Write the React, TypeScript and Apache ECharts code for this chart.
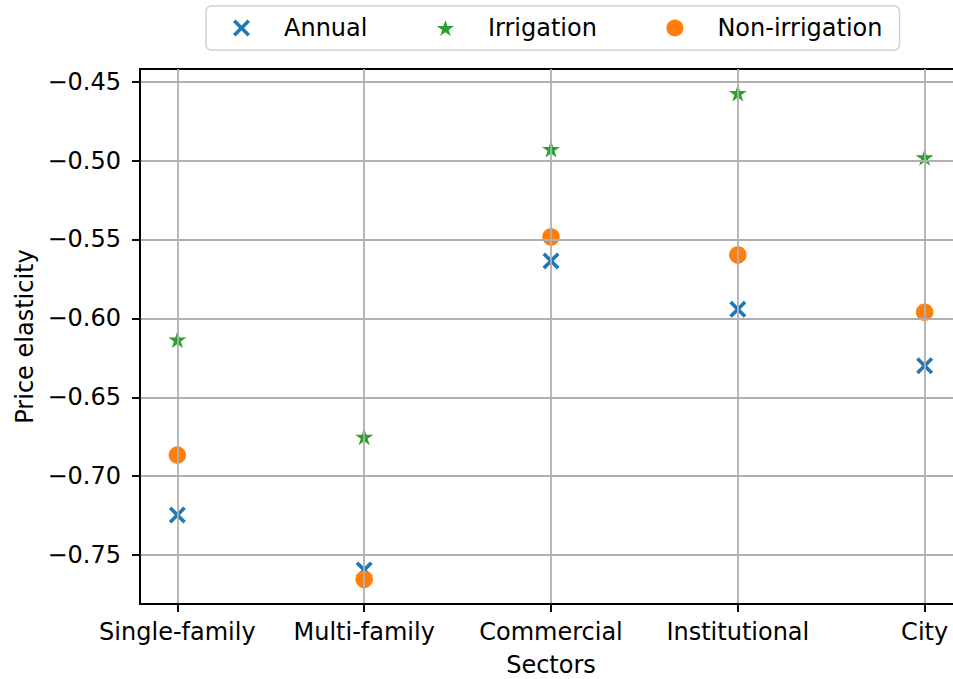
import React, { useEffect, useRef } from "react";
import * as echarts from "echarts";

const categories = ["Single-family", "Multi-family", "Commercial", "Institutional", "City"];
const annual = [-0.7246, -0.7594, -0.5636, -0.5942, -0.630];
const irrigation = [-0.6141, -0.6756, -0.4933, -0.4578, -0.4985];
const nonIrrigation = [-0.6866, -0.7654, -0.5484, -0.5598, -0.5961];
const yTicks = [-0.75, -0.7, -0.65, -0.6, -0.55, -0.5, -0.45];
const xTicks = [0, 1, 2, 3, 4];

const FONT = "'DejaVu Sans', sans-serif";

const S = 100;
const a = 15;
const xPath =
  `path://M0,${a}L${a},0L${S / 2},${S / 2 - a}L${S - a},0L${S},${a}L${S / 2 + a},${S / 2}` +
  `L${S},${S - a}L${S - a},${S}L${S / 2},${S / 2 + a}L${a},${S}L0,${S - a}L${S / 2 - a},${S / 2}Z`;

const starPath =
  "path://M0,-100L22.45,-30.9L95.11,-30.9L36.33,11.8L58.78,80.9L0,38.2L-58.78,80.9L-36.33,11.8L-95.11,-30.9L-22.45,-30.9Z";

export default function App() {
  const ref = useRef<HTMLDivElement>(null);
  useEffect(() => {
    if (!ref.current) return;
    const chart = echarts.init(ref.current, null, { renderer: "svg" });
    const toPts = (arr: number[]) => arr.map((v, i) => [i, v]);
    chart.setOption({
      animation: false,
      textStyle: { fontFamily: FONT },
      grid: {
        left: 140,
        top: 69,
        width: 822,
        height: 535,
        show: true,
        borderColor: "#000",
        borderWidth: 1.9,
        backgroundColor: "transparent",
        outerBoundsMode: "none",
        containLabel: false,
        z: 4,
      },
      legend: {
        left: 206,
        top: 6,
        padding: [10, 17, 10, 27],
        borderColor: "#d0d0d0",
        borderWidth: 1.5,
        borderRadius: 5,
        backgroundColor: "#fff",
        itemWidth: 17,
        itemHeight: 17,
        itemGap: 69.5,
        z: 10,
        formatter: (name: string) => "{pad| }" + name,
        textStyle: {
          fontSize: 24,
          color: "#000",
          fontFamily: FONT,
          rich: { pad: { width: 29, fontSize: 24 } },
        },
        data: ["Annual", "Irrigation", "Non-irrigation"],
      },
      xAxis: {
        type: "value",
        z: 5,
        min: -0.2,
        max: 4.2,
        name: "Sectors",
        nameLocation: "middle",
        nameGap: 49,
        nameTextStyle: { fontSize: 24, color: "#000", fontFamily: FONT },
        axisLine: { show: true, onZero: false, lineStyle: { color: "#000", width: 1.9 } },
        axisTick: { show: true, customValues: xTicks, length: 8, lineStyle: { color: "#000", width: 1.9 } },
        axisLabel: {
          customValues: xTicks,
          formatter: (v: number) => categories[Math.round(v)] ?? "",
          fontSize: 24,
          color: "#000",
          fontFamily: FONT,
          margin: 16,
        },
        splitLine: { show: true, lineStyle: { color: "#b0b0b0", width: 1.8 } },
      },
      yAxis: {
        type: "value",
        z: 5,
        min: -0.781,
        max: -0.442,
        name: "Price elasticity",
        nameLocation: "middle",
        nameGap: 103,
        nameTextStyle: { fontSize: 24, color: "#000", fontFamily: FONT },
        axisLine: { show: true, onZero: false, lineStyle: { color: "#000", width: 1.9 } },
        axisTick: { show: true, customValues: yTicks, length: 8, lineStyle: { color: "#000", width: 1.9 } },
        axisLabel: {
          customValues: yTicks,
          formatter: (v: number) => (v < 0 ? "\u2212" : "") + Math.abs(v).toFixed(2),
          fontSize: 24,
          color: "#000",
          fontFamily: FONT,
          margin: 19,
        },
        splitLine: { show: true, lineStyle: { color: "#b0b0b0", width: 1.8 } },
      },
      series: [
        {
          name: "Annual",
          type: "scatter",
          z: 2,
          symbol: xPath,
          symbolSize: 17,
          itemStyle: { color: "#1f77b4", opacity: 1 },
          data: toPts(annual),
        },
        {
          name: "Irrigation",
          type: "scatter",
          z: 2,
          symbol: starPath,
          symbolSize: [18, 17],
          symbolOffset: [0, -1],
          itemStyle: { color: "#2ca02c", opacity: 1 },
          data: toPts(irrigation),
        },
        {
          name: "Non-irrigation",
          type: "scatter",
          z: 2,
          symbol: "circle",
          symbolSize: 17.5,
          itemStyle: { color: "#ff7f0e", opacity: 1 },
          data: toPts(nonIrrigation),
        },
      ],
    });
    return () => chart.dispose();
  }, []);
  return (
    <div style={{ position: "absolute", left: 0, top: 0, width: 953, height: 679, overflow: "hidden" }}>
      <div ref={ref} style={{ width: 980, height: 679 }} />
    </div>
  );
}
